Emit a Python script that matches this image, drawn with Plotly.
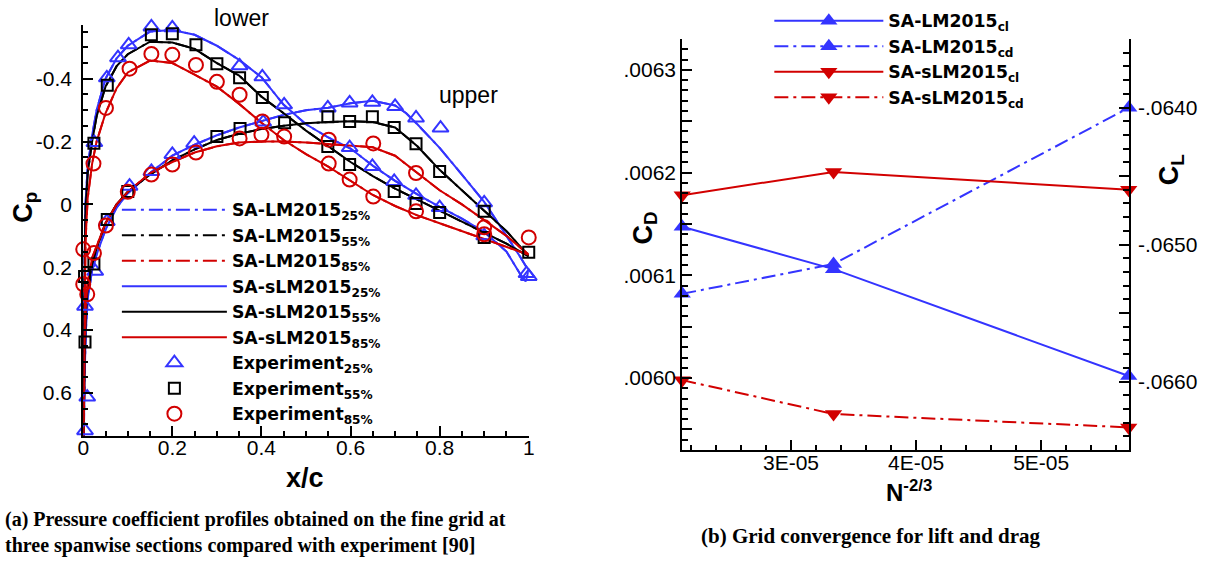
import plotly.graph_objects as go

W, H = 1206, 565
FONT = "Liberation Sans, Arial, Helvetica, sans-serif"
LEGFONT = "DejaVu Sans, Liberation Sans, Arial, sans-serif"
SERIF = "Liberation Serif, Times New Roman, serif"
BLUE = "#3434ff"
BLACK = "#000000"
RED = "#d20000"

# ---------------- Panel (a): Cp profiles ----------------
# computed curves (suction/"lower" branch and pressure/"upper" branch), x/c and Cp
x_lo_25 = [0.0, 0.002, 0.005, 0.01, 0.02, 0.03, 0.05, 0.075, 0.1, 0.15, 0.2, 0.25, 0.3, 0.35, 0.4, 0.425, 0.45, 0.5, 0.55, 0.6, 0.65, 0.7, 0.75, 0.8, 0.85, 0.9, 0.95, 0.98, 0.993, 1.0]
cp_lo_25 = [0.9, 0.3, 0.0, -0.12, -0.22, -0.3, -0.4, -0.465, -0.505, -0.55, -0.555, -0.54, -0.505, -0.46, -0.405, -0.36, -0.317, -0.255, -0.213, -0.178, -0.123, -0.075, -0.032, 0.008, 0.045, 0.088, 0.15, 0.22, 0.245, 0.21]
x_up_25 = [0.0, 0.003, 0.006, 0.01, 0.02, 0.03, 0.05, 0.075, 0.1, 0.15, 0.2, 0.25, 0.3, 0.35, 0.4, 0.45, 0.5, 0.55, 0.6, 0.65, 0.7, 0.725, 0.75, 0.8, 0.85, 0.9, 0.95, 0.98, 0.995]
cp_up_25 = [0.9, 0.55, 0.4, 0.3, 0.21, 0.16, 0.08, 0.01, -0.035, -0.1, -0.155, -0.19, -0.22, -0.245, -0.265, -0.285, -0.3, -0.308, -0.322, -0.33, -0.315, -0.29, -0.255, -0.18, -0.095, -0.008, 0.1, 0.165, 0.2]

x_lo_55 = [0.0, 0.002, 0.005, 0.01, 0.02, 0.03, 0.05, 0.075, 0.1, 0.15, 0.2, 0.25, 0.3, 0.35, 0.4, 0.45, 0.5, 0.55, 0.6, 0.65, 0.7, 0.75, 0.8, 0.85, 0.9, 0.95, 1.0]
cp_lo_55 = [0.9, 0.3, 0.02, -0.1, -0.2, -0.28, -0.375, -0.44, -0.478, -0.518, -0.515, -0.495, -0.45, -0.41, -0.343, -0.29, -0.235, -0.185, -0.135, -0.09, -0.05, -0.015, 0.02, 0.055, 0.09, 0.125, 0.165]
x_up_55 = [0.0, 0.003, 0.006, 0.01, 0.02, 0.03, 0.05, 0.075, 0.1, 0.15, 0.2, 0.25, 0.3, 0.35, 0.4, 0.45, 0.5, 0.55, 0.6, 0.65, 0.7, 0.725, 0.75, 0.8, 0.85, 0.9, 0.95, 1.0]
cp_up_55 = [0.9, 0.5, 0.35, 0.27, 0.19, 0.14, 0.06, 0.0, -0.04, -0.095, -0.14, -0.175, -0.205, -0.225, -0.24, -0.25, -0.258, -0.262, -0.265, -0.262, -0.245, -0.215, -0.185, -0.11, -0.045, 0.02, 0.085, 0.165]

x_lo_85 = [0.0, 0.002, 0.005, 0.01, 0.02, 0.03, 0.05, 0.075, 0.1, 0.15, 0.2, 0.25, 0.3, 0.35, 0.4, 0.45, 0.5, 0.55, 0.6, 0.65, 0.7, 0.75, 0.8, 0.85, 0.9, 0.95, 1.0]
cp_lo_85 = [0.9, 0.4, 0.12, -0.02, -0.13, -0.2, -0.29, -0.37, -0.42, -0.458, -0.45, -0.413, -0.375, -0.32, -0.26, -0.205, -0.16, -0.12, -0.075, -0.03, 0.005, 0.035, 0.06, 0.085, 0.11, 0.135, 0.16]
x_up_85 = [0.0, 0.003, 0.006, 0.01, 0.02, 0.03, 0.05, 0.075, 0.1, 0.15, 0.2, 0.25, 0.3, 0.35, 0.4, 0.45, 0.5, 0.55, 0.6, 0.65, 0.7, 0.725, 0.75, 0.8, 0.85, 0.9, 0.95, 1.0]
cp_up_85 = [0.9, 0.45, 0.32, 0.25, 0.17, 0.13, 0.06, 0.0, -0.04, -0.1, -0.135, -0.165, -0.185, -0.197, -0.2, -0.2, -0.197, -0.192, -0.188, -0.182, -0.155, -0.13, -0.1, -0.045, 0.0, 0.05, 0.1, 0.16]

# experiment
x_exp_25 = [0.025, 0.053, 0.078, 0.102, 0.153, 0.2, 0.351, 0.402, 0.451, 0.598, 0.649, 0.698, 0.747, 0.8, 0.9, 1.0,
            0.004, 0.009, 0.004, 0.027, 0.053, 0.104, 0.153, 0.2, 0.249, 0.404, 0.549, 0.598, 0.649, 0.7, 0.747, 0.802, 0.9, 0.995]
cp_exp_25 = [-0.197, -0.403, -0.467, -0.508, -0.565, -0.562, -0.441, -0.406, -0.317, -0.181, -0.121, -0.073, -0.029, 0.01, 0.1, 0.229,
             0.72, 0.613, 0.324, 0.213, 0.054, -0.058, -0.105, -0.159, -0.195, -0.262, -0.307, -0.323, -0.325, -0.312, -0.275, -0.243, -0.005, 0.22]
x_exp_55 = [0.024, 0.054, 0.153, 0.2, 0.253, 0.3, 0.351, 0.402, 0.549, 0.598, 0.698, 0.747, 0.8, 0.9, 1.0,
            0.004, 0.003, 0.024, 0.054, 0.1, 0.3, 0.352, 0.452, 0.549, 0.598, 0.649, 0.698, 0.747, 0.8, 0.9]
cp_exp_55 = [-0.195, -0.379, -0.54, -0.543, -0.508, -0.448, -0.403, -0.34, -0.184, -0.127, -0.041, -0.003, 0.026, 0.105, 0.152,
             0.438, 0.229, 0.19, 0.048, -0.041, -0.216, -0.242, -0.26, -0.279, -0.264, -0.279, -0.245, -0.193, -0.105, 0.022]
x_exp_85 = [0.023, 0.051, 0.104, 0.153, 0.2, 0.253, 0.3, 0.351, 0.402, 0.551, 0.598, 0.651, 0.747, 0.9, 1.0,
            0.0, 0.0, 0.009, 0.024, 0.051, 0.1, 0.153, 0.2, 0.253, 0.351, 0.4, 0.451, 0.551, 0.651, 0.747, 0.9]
cp_exp_85 = [-0.13, -0.307, -0.432, -0.479, -0.476, -0.444, -0.39, -0.349, -0.264, -0.13, -0.079, -0.025, 0.022, 0.095, 0.105,
             0.143, 0.254, 0.286, 0.155, 0.067, -0.04, -0.095, -0.127, -0.165, -0.21, -0.222, -0.216, -0.206, -0.194, -0.1, 0.073]

cp_ticks = [-0.4, -0.2, 0.0, 0.2, 0.4, 0.6]
cp_ticktext = ["-0.4", "-0.2", "0", "0.2", "0.4", "0.6"]
xc_ticks = [0, 0.2, 0.4, 0.6, 0.8, 1.0]
xc_ticktext = ["0", "0.2", "0.4", "0.6", "0.8", "1"]
cp_range = [0.737, -0.571]

# ---------------- Panel (b): grid convergence ----------------
n23 = [2.13e-5, 3.34e-5, 5.70e-5]
cl_lm = [-0.06487, -0.06518, -0.06596]
cd_lm = [0.006082, 0.006111, 0.006263]
cl_slm = [-0.06464, -0.06447, -0.06460]
cd_slm = [0.005998, 0.005965, 0.005952]

n_ticks = [3e-5, 4e-5, 5e-5]
n_ticktext = ["3E-05", "4E-05", "5E-05"]
cd_ticks = [0.00595, 0.0060, 0.00605, 0.0061, 0.00615, 0.0062, 0.00625, 0.0063]
cd_ticktext = ["", ".0060", "", ".0061", "", ".0062", "", ".0063"]
cd_range = [0.00593, 0.00633]
cl_ticks = [-0.0665, -0.0660, -0.0655, -0.0650, -0.0645, -0.0640, -0.0635]
cl_ticktext = ["", "-.0660", "", "-.0650", "", "-.0640", ""]
cl_range = [-0.0665, -0.0635]


def px(v):
    return v / W


def py(v):
    return 1 - v / H


def loop(xu, cu, xl, cl):
    return xu[::-1] + xl[1:], cu[::-1] + cl[1:]


fig = go.Figure()
DASHDOT = "14px,5px,3px,5px"
sections = [("25%", BLUE, x_up_25, cp_up_25, x_lo_25, cp_lo_25),
            ("55%", BLACK, x_up_55, cp_up_55, x_lo_55, cp_lo_55),
            ("85%", RED, x_up_85, cp_up_85, x_lo_85, cp_lo_85)]

for lab, col, xu, cu, xl, cl in sections:
    xx, cc = loop(xu, cu, xl, cl)
    fig.add_trace(go.Scatter(x=xx, y=cc, mode="lines", name=f"SA-LM2015<sub>{lab}</sub>",
                             line=dict(color=col, width=2, dash=DASHDOT), legend="legend",
                             xaxis="x", yaxis="y"))
for lab, col, xu, cu, xl, cl in sections:
    xx, cc = loop(xu, cu, xl, cl)
    fig.add_trace(go.Scatter(x=xx, y=cc, mode="lines", name=f"SA-sLM2015<sub>{lab}</sub>",
                             line=dict(color=col, width=2), legend="legend",
                             xaxis="x", yaxis="y"))
exps = [("25%", BLUE, "triangle-up-open", 14, x_exp_25, cp_exp_25),
        ("55%", BLACK, "square-open", 11, x_exp_55, cp_exp_55),
        ("85%", RED, "circle-open", 14, x_exp_85, cp_exp_85)]
for lab, col, sym, sz, xe, ce in exps:
    fig.add_trace(go.Scatter(x=xe, y=ce, mode="markers", name=f"Experiment<sub>{lab}</sub>",
                             marker=dict(symbol=sym, size=sz, color=col, line=dict(color=col, width=2)),
                             cliponaxis=False, legend="legend", xaxis="x", yaxis="y"))

# panel (b)
fig.add_trace(go.Scatter(x=n23, y=cl_lm, mode="lines+markers", name="SA-LM2015<sub>cl</sub>",
                         line=dict(color=BLUE, width=2), marker=dict(symbol="triangle-up", size=15, color=BLUE),
                         cliponaxis=False, legend="legend2", xaxis="x2", yaxis="y3"))
fig.add_trace(go.Scatter(x=n23, y=cd_lm, mode="lines+markers", name="SA-LM2015<sub>cd</sub>",
                         line=dict(color=BLUE, width=2, dash=DASHDOT), marker=dict(symbol="triangle-up", size=15, color=BLUE),
                         cliponaxis=False, legend="legend2", xaxis="x2", yaxis="y2"))
fig.add_trace(go.Scatter(x=n23, y=cl_slm, mode="lines+markers", name="SA-sLM2015<sub>cl</sub>",
                         line=dict(color=RED, width=2), marker=dict(symbol="triangle-down", size=15, color=RED),
                         cliponaxis=False, legend="legend2", xaxis="x2", yaxis="y3"))
fig.add_trace(go.Scatter(x=n23, y=cd_slm, mode="lines+markers", name="SA-sLM2015<sub>cd</sub>",
                         line=dict(color=RED, width=2, dash=DASHDOT), marker=dict(symbol="triangle-down", size=15, color=RED),
                         cliponaxis=False, legend="legend2", xaxis="x2", yaxis="y2"))

tickfont = dict(family=FONT, size=21, color="black")
common = dict(showgrid=False, zeroline=False, showline=True, linecolor="black", linewidth=2,
              ticks="inside", ticklen=10, tickwidth=2, tickcolor="black", tickfont=tickfont)
minor_base = dict(ticks="inside", tickwidth=1.5, tickcolor="black")

fig.update_layout(
    width=W, height=H, autosize=False,
    margin=dict(l=0, r=0, t=0, b=0),
    paper_bgcolor="white", plot_bgcolor="white",
    font=dict(family=FONT, color="black"),
    xaxis=dict(domain=[px(78), px(528)], range=[0, 1], anchor="y",
               tickmode="array", tickvals=xc_ticks, ticktext=xc_ticktext, ticklabelstandoff=-8,
               minor=dict(dtick=0.05, tick0=0, ticklen=5, **minor_base), **common),
    yaxis=dict(domain=[py(436), py(25)], range=cp_range, anchor="x",
               tickmode="array", tickvals=cp_ticks, ticktext=cp_ticktext, ticklabelstandoff=5,
               minor=dict(dtick=0.05, tick0=0, ticklen=5, **minor_base), **common),
    xaxis2=dict(domain=[px(683), px(1134)], range=[n23[0], n23[-1]], anchor="y2",
                tickmode="array", tickvals=n_ticks, ticktext=n_ticktext, ticklabelstandoff=-7,
                minor=dict(dtick=2e-6, tick0=0, ticklen=5, **minor_base), **common),
    yaxis2=dict(domain=[py(450), py(39)], range=cd_range, anchor="x2",
                tickmode="array", tickvals=cd_ticks, ticktext=cd_ticktext,
                minor=dict(dtick=1e-5, tick0=0, ticklen=6, **minor_base), **common),
    yaxis3=dict(domain=[py(450), py(39)], range=cl_range, anchor="x2", overlaying="y2", side="right",
                tickmode="array", tickvals=cl_ticks, ticktext=cl_ticktext, ticklabelstandoff=3,
                minor=dict(dtick=1e-4, tick0=0, ticklen=6, **minor_base), **common),
    legend=dict(x=px(112), y=py(192), xanchor="left", yanchor="top", bgcolor="rgba(0,0,0,0)",
                font=dict(family=LEGFONT, size=17.3, color="black", weight="bold"), itemwidth=105,
                tracegroupgap=0, traceorder="normal"),
    legend2=dict(x=px(771), y=py(3), xanchor="left", yanchor="top", bgcolor="rgba(0,0,0,0)",
                 font=dict(family=LEGFONT, size=17.3, color="black", weight="bold"), itemwidth=109,
                 tracegroupgap=0, traceorder="normal"),
    showlegend=True,
)

ann = [
    dict(text="lower", x=px(238), y=py(18), font=dict(family=FONT, size=23)),
    dict(text="upper", x=px(467), y=py(95), font=dict(family=FONT, size=23)),
    dict(text="<b>x/c</b>", x=px(302), y=py(478), font=dict(family=FONT, size=27)),
    dict(text="<b>C<sub>p</sub></b>", x=px(19), y=py(207), textangle=-90, font=dict(family=FONT, size=27)),
    dict(text="<b>C<sub>D</sub></b>", x=px(645), y=py(228), textangle=-90, font=dict(family=FONT, size=27)),
    dict(text="<b>C<sub>L</sub></b>", x=px(1177), y=py(170), textangle=-90, font=dict(family=FONT, size=27)),
    dict(text="<b>N<sup>-2/3</sup></b>", x=px(912), y=py(491), font=dict(family=FONT, size=24)),
    dict(text="<b>(a) Pressure coefficient profiles obtained on the fine grid at</b>", x=px(-3), y=py(519),
         xanchor="left", font=dict(family=SERIF, size=20)),
    dict(text="<b>three spanwise sections compared with experiment [90]</b>", x=px(-3), y=py(545),
         xanchor="left", font=dict(family=SERIF, size=20)),
    dict(text="<b>(b) Grid convergence for lift and drag</b>", x=px(874), y=py(536),
         font=dict(family=SERIF, size=21)),
]
for a in ann:
    a.setdefault("xanchor", "center")
    a.update(xref="paper", yref="paper", yanchor="middle", showarrow=False)
    a["font"].setdefault("color", "black")
fig.update_layout(annotations=ann)

fig.write_html("out.html")
